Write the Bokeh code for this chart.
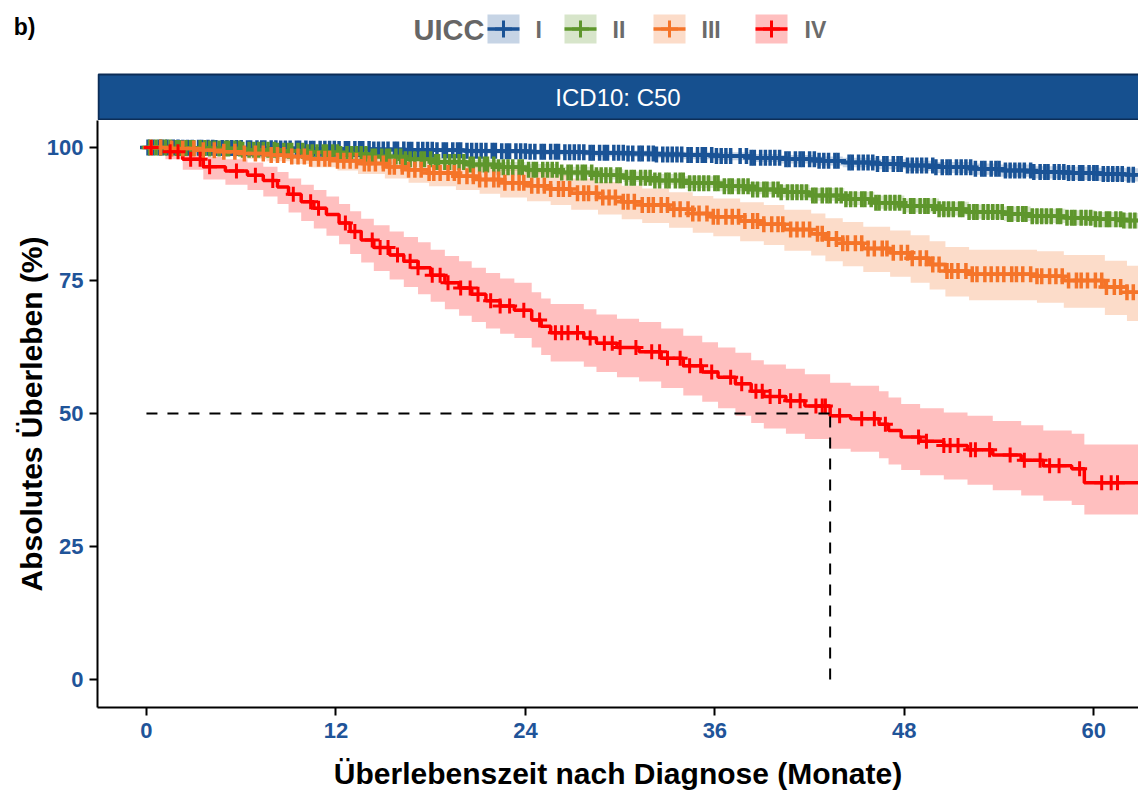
import numpy as np
from bokeh.plotting import figure
from bokeh.models import Range1d, FixedTicker, ColumnDataSource
from bokeh.layouts import column
from bokeh.embed import file_html
from bokeh.resources import INLINE
from bokeh.core.properties import value

# ---------------- data ----------------
groups = ["I", "II", "III", "IV"]
colors = ["#1A5396", "#5E962C", "#F57429", "#FF0000"]
legend_title = "UICC"
facet_label = "ICD10: C50"
panel_tag = "b)"
x_ticks = [0, 12, 24, 36, 48, 60]
y_ticks = [0, 25, 50, 75, 100]
end_time = 62.9

t_I = [0, 2.1, 4.3, 6.2, 8.4, 10.3, 12.1, 14.2, 16.4, 18.3, 20.1, 22.4, 24.2, 26.3, 28.1, 30.4,
       32.2, 34.0, 36.1, 38.3, 40.2, 42.4, 44.1, 46.3, 48.2, 50.0, 52.3, 54.1, 56.2, 58.4, 60.3, 62.0]
s_I = [100, 99.95, 99.9, 99.85, 99.8, 99.75, 99.7, 99.65, 99.6, 99.5, 99.4, 99.3, 99.2, 99.1, 99.0, 98.9,
       98.7, 98.6, 98.4, 98.1, 97.8, 97.5, 97.2, 96.9, 96.6, 96.3, 96.0, 95.7, 95.4, 95.2, 95.0, 94.9]
lo_I = [100, 99.9, 99.8, 99.7, 99.6, 99.5, 99.4, 99.3, 99.2, 99.1, 98.9, 98.8, 98.6, 98.5, 98.3, 98.2,
        98.0, 97.8, 97.6, 97.3, 97.0, 96.6, 96.3, 95.9, 95.6, 95.2, 94.9, 94.5, 94.2, 93.9, 93.7, 93.6]
hi_I = [100, 100, 100, 99.95, 99.95, 99.9, 99.9, 99.9, 99.85, 99.8, 99.75, 99.7, 99.65, 99.6, 99.5, 99.45,
        99.3, 99.2, 99.1, 98.8, 98.6, 98.3, 98.1, 97.8, 97.5, 97.3, 97.0, 96.8, 96.5, 96.4, 96.2, 96.1]

t_II = [0, 1.8, 3.9, 6.1, 8.2, 10.1, 12.3, 14.0, 16.2, 18.1, 20.3, 22.2, 24.0, 26.1, 28.3, 30.2,
        32.0, 34.1, 36.3, 38.2, 40.1, 42.0, 44.2, 46.1, 48.0, 50.2, 52.1, 54.3, 56.0, 58.2, 60.1, 61.9]
s_II = [100, 99.9, 99.8, 99.6, 99.4, 99.1, 98.8, 98.3, 97.8, 97.3, 96.8, 96.3, 95.8, 95.3, 94.8, 94.3,
        93.8, 93.3, 92.7, 92.1, 91.6, 91.0, 90.3, 89.6, 89.0, 88.4, 87.9, 87.5, 87.1, 86.8, 86.5, 86.3]
lo_II = [100, 99.8, 99.6, 99.3, 99.1, 98.7, 98.4, 97.8, 97.3, 96.7, 96.2, 95.6, 95.1, 94.6, 94.0, 93.5,
         93.0, 92.4, 91.8, 91.2, 90.6, 90.0, 89.2, 88.5, 87.8, 87.2, 86.6, 86.2, 85.8, 85.4, 85.0, 84.8]
hi_II = [100, 100, 99.95, 99.85, 99.7, 99.5, 99.3, 98.9, 98.5, 98.1, 97.7, 97.3, 96.9, 96.4, 95.9, 95.5,
         95.0, 94.6, 94.0, 93.5, 93.0, 92.4, 91.7, 91.0, 90.4, 89.8, 89.3, 88.9, 88.5, 88.2, 87.9, 87.7]

t_III = [0, 1.4, 3.1, 4.6, 5.9, 7.6, 9.1, 10.4, 12.1, 13.4, 15.1, 16.6, 17.9, 19.6, 21.1, 22.4, 24.1,
         25.6, 26.9, 28.6, 30.1, 31.4, 33.1, 34.6, 35.9, 37.6, 39.1, 40.4, 42.1, 43.0, 44.1, 45.4, 47.1,
         48.4, 49.6, 50.6, 52.1, 56.4, 58.1, 60.7, 62.1]
s_III = [100, 99.8, 99.5, 99.2, 98.9, 98.6, 98.3, 97.9, 97.5, 97.0, 96.4, 95.8, 95.2, 94.6, 94.0, 93.4, 92.8,
         92.2, 91.4, 90.6, 89.8, 89.2, 88.4, 87.6, 87.0, 86.2, 85.6, 84.6, 83.8, 82.8, 82.0, 81.0, 80.2,
         79.2, 78.0, 76.8, 76.2, 75.8, 75.0, 73.8, 72.8]
lo_III = [100, 99.5, 98.9, 98.4, 97.9, 97.4, 96.9, 96.3, 95.7, 95.0, 94.2, 93.4, 92.7, 92.0, 91.3, 90.6, 89.9,
          89.2, 88.3, 87.4, 86.5, 85.8, 84.9, 84.0, 83.3, 82.4, 81.7, 80.6, 79.7, 78.6, 77.7, 76.6, 75.7,
          74.6, 73.3, 72.0, 71.3, 70.8, 69.9, 68.5, 67.4]
hi_III = [100, 100, 99.9, 99.8, 99.7, 99.6, 99.5, 99.3, 99.1, 98.7, 98.3, 97.9, 97.4, 96.9, 96.4, 95.9, 95.4,
          94.9, 94.2, 93.5, 92.8, 92.3, 91.6, 90.9, 90.4, 89.7, 89.2, 88.3, 87.6, 86.7, 86.0, 85.1, 84.4,
          83.5, 82.4, 81.3, 80.8, 80.5, 79.8, 78.7, 77.8]

t_IV = [0, 1.2, 2.3, 3.6, 5.0, 6.4, 7.4, 8.3, 9.0, 9.8, 10.6, 11.4, 12.2, 12.9, 13.6, 14.4, 15.4, 16.3,
        17.2, 18.0, 18.9, 19.8, 20.6, 21.5, 22.4, 23.3, 24.4, 25.0, 25.6, 27.7, 28.5, 29.8, 31.2, 32.6,
        34.0, 35.2, 36.2, 37.3, 38.3, 39.1, 40.5, 41.7, 43.3, 44.6, 46.4, 47.0, 47.8, 49.0, 50.5, 52.0,
        53.6, 55.4, 56.8, 58.6, 59.4]
s_IV = [100, 99.2, 97.8, 96.4, 95.6, 94.8, 93.8, 92.6, 91.2, 89.8, 88.6, 87.4, 85.8, 84.2, 82.6, 81.2, 79.8,
        78.6, 77.4, 76.0, 74.6, 73.6, 72.4, 71.2, 70.2, 69.4, 67.6, 66.4, 65.2, 64.2, 63.2, 62.4, 61.6, 60.4,
        59.0, 57.8, 56.8, 55.6, 54.2, 53.2, 52.4, 51.4, 49.6, 49.0, 48.0, 46.8, 45.6, 44.8, 44.0, 43.2, 42.2,
        41.2, 40.2, 39.6, 37.0]
lo_IV = [100, 97.8, 95.8, 94.0, 93.0, 92.0, 90.8, 89.4, 87.8, 86.2, 84.8, 83.4, 81.8, 80.0, 78.4, 76.8, 75.2,
         73.8, 72.4, 71.0, 69.6, 68.4, 67.2, 66.0, 65.0, 64.2, 62.4, 61.0, 59.8, 58.8, 57.8, 56.8, 56.0, 54.8,
         53.4, 52.2, 51.0, 49.6, 48.2, 47.2, 46.2, 45.2, 43.4, 42.8, 41.6, 40.4, 39.4, 38.4, 37.6, 36.6, 35.6,
         34.6, 33.6, 32.8, 31.0]
hi_IV = [100, 99.9, 99.2, 98.2, 97.8, 97.2, 96.4, 95.4, 94.2, 93.0, 92.0, 90.8, 89.4, 88.0, 86.6, 85.4, 84.2,
         83.2, 82.2, 80.8, 79.6, 78.6, 77.4, 76.4, 75.4, 74.6, 72.8, 71.6, 70.6, 69.6, 68.6, 67.8, 67.2, 66.0,
         64.6, 63.4, 62.4, 61.4, 60.0, 59.2, 58.4, 57.4, 55.8, 55.2, 54.2, 53.0, 51.8, 51.0, 50.2, 49.6, 48.6,
         47.8, 46.8, 46.2, 44.2]

cens_I = [0.1, 0.4, 0.8, 1.0, 1.3, 1.7, 2.0, 2.3, 2.6, 2.9, 3.3, 3.5, 3.9, 4.2, 4.4, 4.8, 5.1, 5.4, 5.7, 6.0,
          6.4, 6.6, 7.0, 7.3, 7.5, 7.9, 8.2, 8.5, 8.8, 9.1, 9.5, 9.7, 10.1, 10.4, 10.6, 11.0, 11.3, 11.6, 11.9, 12.2,
          12.6, 12.8, 13.2, 13.5, 13.7, 14.1, 14.4, 14.7, 15.0, 15.3, 15.7, 15.9, 16.3, 16.6, 16.8, 17.2, 17.5, 17.8,
          18.1, 18.4, 18.8, 19.0, 19.4, 19.7, 19.9, 20.3, 20.6, 20.9, 21.2, 21.5, 21.9, 22.1, 22.5, 22.8, 23.0, 23.4,
          23.7, 24.0, 24.3, 24.6, 25.0, 25.2, 25.6, 25.9, 26.1, 26.5, 26.8, 27.1, 27.4, 27.7, 28.1, 28.3, 28.7, 29.0,
          29.2, 29.6, 29.9, 30.2, 30.5, 30.8, 31.2, 31.4, 31.8, 32.1, 32.3, 32.7, 33.0, 33.3, 33.6, 33.9, 34.3, 34.5,
          34.9, 35.2, 35.4, 35.8, 36.1, 36.4, 36.7, 37.0, 37.6, 38.0, 38.3, 38.5, 38.9, 39.2, 39.5, 39.8, 40.1, 40.5,
          40.7, 41.1, 41.4, 41.6, 42.0, 42.3, 42.6, 42.9, 43.2, 43.6, 43.8, 44.5, 44.7, 45.1, 45.4, 45.7, 46.0, 46.3,
          46.7, 46.9, 47.3, 47.6, 47.8, 48.2, 48.5, 48.8, 49.1, 49.4, 49.8, 50.0, 50.4, 50.7, 50.9, 51.3, 51.6, 51.9,
          52.2, 52.5, 52.9, 53.1, 53.5, 53.8, 54.0, 54.4, 54.7, 55.0, 55.3, 55.6, 56.0, 56.2, 56.6, 56.9, 57.1, 57.5,
          57.8, 58.1, 58.4, 58.7, 59.1, 59.3, 59.7, 60.0, 60.2, 60.6, 60.9, 61.2, 61.5, 61.8, 62.2, 62.5]
cens_II = [0.2, 0.6, 0.9, 1.2, 1.5, 1.9, 2.1, 2.5, 2.8, 3.0, 3.4, 3.7, 4.0, 4.3, 4.6, 5.0, 5.2, 5.6, 5.9, 6.1,
           6.5, 6.8, 7.1, 7.4, 7.7, 8.1, 8.3, 8.7, 9.0, 9.2, 9.6, 9.9, 10.2, 10.5, 10.8, 11.2, 11.4, 11.8, 12.1, 12.3,
           12.7, 13.0, 13.3, 13.6, 13.9, 14.3, 14.5, 14.9, 15.2, 15.4, 15.8, 16.1, 16.4, 16.7, 17.0, 17.4, 17.6, 18.0,
           18.3, 18.5, 18.9, 19.2, 19.5, 19.8, 20.1, 20.5, 20.7, 21.1, 21.4, 21.6, 22.0, 22.3, 22.6, 22.9, 23.2, 23.6,
           23.8, 24.2, 24.5, 24.7, 25.1, 25.4, 25.7, 26.0, 26.3, 26.7, 26.9, 27.3, 27.6, 27.8, 28.2, 28.5, 28.8, 29.1,
           29.4, 29.8, 30.0, 30.4, 30.7, 30.9, 31.3, 31.6, 31.9, 32.2, 32.5, 32.9, 33.1, 33.5, 33.8, 34.0, 34.4, 34.7,
           35.0, 35.3, 35.6, 36.0, 36.2, 36.6, 36.9, 37.1, 37.5, 37.8, 38.1, 38.4, 38.7, 39.1, 39.3, 39.7, 40.0, 40.2,
           40.6, 40.9, 41.2, 41.5, 41.8, 42.2, 42.4, 42.8, 43.1, 43.3, 43.7, 44.0, 44.3, 44.6, 44.9, 45.3, 45.5, 45.9,
           46.2, 46.4, 46.8, 47.1, 47.4, 47.7, 48.0, 48.4, 48.6, 49.0, 49.3, 49.5, 49.9, 50.2, 50.5, 50.8, 51.1, 51.5,
           51.7, 52.1, 52.4, 52.6, 53.0, 53.3, 53.6, 53.9, 54.2, 54.6, 54.8, 55.2, 55.5, 55.7, 56.1, 56.4, 56.7, 57.0,
           57.3, 57.7, 57.9, 58.3, 58.6, 58.8, 59.2, 59.5, 59.8, 60.1, 60.4, 60.8, 61.0, 61.4, 61.7, 61.9, 62.3, 62.6]
cens_III = [0.3, 0.9, 1.6, 2.3, 3.0, 3.6, 4.3, 4.9, 5.6, 6.2, 6.9, 7.4, 7.9, 8.3, 8.7, 9.2, 9.6, 10.0, 10.4, 10.9,
            11.3, 11.6, 12.1, 12.5, 12.9, 13.3, 13.8, 14.1, 14.5, 15.0, 15.4, 15.7, 16.2, 16.6, 17.0, 17.4, 17.9,
            18.2, 18.6, 19.1, 19.5, 19.8, 20.3, 20.7, 21.1, 21.5, 22.0, 22.3, 22.7, 23.2, 23.6, 23.9, 24.4, 24.8,
            25.2, 25.6, 26.1, 26.4, 26.8, 27.3, 27.7, 28.0, 28.5, 28.9, 29.3, 29.7, 30.2, 30.5, 30.9, 31.4, 31.8,
            32.1, 32.6, 33.0, 33.4, 33.8, 34.3, 34.6, 35.0, 35.5, 35.9, 36.2, 36.7, 37.1, 37.5, 37.9, 38.4, 38.7,
            39.1, 39.6, 40.0, 40.3, 40.8, 41.2, 41.6, 42.0, 42.5, 42.8, 43.2, 43.7, 44.1, 44.4, 44.9, 45.3, 45.7,
            46.1, 46.6, 46.9, 47.3, 47.8, 48.2, 48.5, 49.0, 49.4, 49.8, 50.2, 50.7, 51.0, 51.4, 51.9, 52.3, 52.6,
            53.1, 53.5, 53.9, 54.3, 54.8, 55.1, 55.5, 56.0, 56.4, 56.7, 57.2, 57.6, 58.0, 58.4, 58.9, 59.2, 59.6,
            60.1, 60.5, 60.8, 61.3, 61.7, 62.1, 62.5]
cens_IV = [0.3, 1.5, 2.0, 2.8, 3.4, 4.0, 5.7, 6.9, 8.0, 9.3, 10.4, 10.9, 12.6, 13.2, 14.3, 14.8, 15.3, 15.9,
           16.7, 17.2, 18.1, 18.6, 19.1, 19.9, 20.5, 21.0, 21.8, 22.4, 23.0, 23.9, 24.9, 25.9, 26.3, 26.7,
           27.3, 28.1, 29.0, 29.5, 30.0, 31.0, 32.0, 32.5, 33.0, 33.8, 34.4, 35.1, 35.8, 37.0, 37.7, 38.6,
           39.0, 39.5, 40.1, 40.8, 41.4, 42.4, 42.8, 43.0, 43.9, 45.3, 46.1, 46.8, 48.9, 49.4, 50.5, 50.9,
           51.4, 52.2, 52.5, 53.4, 54.7, 55.6, 56.6, 57.2, 57.8, 59.1, 60.5, 61.1, 61.5]

times = [t_I, t_II, t_III, t_IV]
survs = [s_I, s_II, s_III, s_IV]
lowers = [lo_I, lo_II, lo_III, lo_IV]
uppers = [hi_I, hi_II, hi_III, hi_IV]
censors = [cens_I, cens_II, cens_III, cens_IV]

FONT = "Liberation Sans"
TICK_COLOR = "#1F5499"
W = 1138
LEFT = 97

# ---------------- main panel ----------------
p = figure(width=W, height=678, x_range=Range1d(-3.1, 62.83), y_range=Range1d(-5.26, 105.08),
           output_backend="svg", toolbar_location=None,
           min_border_left=LEFT, min_border_right=0, min_border_top=0, min_border_bottom=91)
p.outline_line_color = None
p.xgrid.visible = False
p.ygrid.visible = False

def step_xy(t, v):
    return list(t) + [end_time], list(v) + [v[-1]]

for t, lo, hi, c in zip(times, lowers, uppers, colors):
    xs, y1 = step_xy(t, lo)
    _, y2 = step_xy(t, hi)
    p.varea_step(x=xs, y1=y1, y2=y2, step_mode="after", fill_color=c, fill_alpha=0.25)

for t, s, c in zip(times, survs, colors):
    xs, ys = step_xy(t, s)
    p.step(xs, ys, mode="after", line_color=c, line_width=3.5)

for i, (t, s, cens, c) in enumerate(zip(times, survs, censors, colors)):
    idx = np.searchsorted(np.array(t), np.array(cens), side="right") - 1
    cy = np.array(s)[idx]
    dense = i < 3
    p.scatter(cens, cy, marker="cross", size=(16 if dense else 15),
              line_width=(3.5 if dense else 3), line_color=c)

s_arr = np.array(s_IV)
median_t = float(np.array(t_IV)[np.argmax(s_arr <= 50)])
p.line([0, median_t], [50, 50], line_color="black", line_width=2, line_dash="11 10")
p.line([median_t, median_t], [0, 50], line_color="black", line_width=2, line_dash="11 10")

p.xaxis.ticker = FixedTicker(ticks=x_ticks)
p.yaxis.ticker = FixedTicker(ticks=y_ticks)
for ax in (p.xaxis[0], p.yaxis[0]):
    ax.axis_line_width = 2
    ax.axis_line_color = "black"
    ax.major_tick_line_width = 2
    ax.major_tick_line_color = "black"
    ax.major_tick_in = 0
    ax.major_tick_out = 8
    ax.minor_tick_in = 0
    ax.minor_tick_out = 0
    ax.major_label_text_font = FONT
    ax.major_label_text_font_size = "22px"
    ax.major_label_text_font_style = "bold"
    ax.major_label_text_color = TICK_COLOR
    ax.axis_label_text_font = FONT
    ax.axis_label_text_font_size = "30px"
    ax.axis_label_text_font_style = "bold"
    ax.axis_label_text_color = "black"
p.xaxis.axis_label = "Überlebenszeit nach Diagnose (Monate)"
p.yaxis.axis_label = "Absolutes Überleben (%)"
p.xaxis.major_label_standoff = 7
p.xaxis.axis_label_standoff = 16
p.yaxis.major_label_standoff = 6
p.yaxis.axis_label_standoff = -4

# ---------------- header: panel tag, legend, facet strip (page-pixel coords) ----------------
top = figure(width=W, height=120, x_range=Range1d(LEFT, W), y_range=Range1d(120, 0),
             x_axis_type=None, output_backend="svg", toolbar_location=None,
             min_border_left=LEFT, min_border_right=0, min_border_top=0, min_border_bottom=0)
top.outline_line_color = None
top.xgrid.visible = False
top.ygrid.visible = False

# panel tag "b)" as the single label of an otherwise invisible left axis
tag_y = 26
top.yaxis.ticker = FixedTicker(ticks=[tag_y])
top.yaxis.major_label_overrides = {tag_y: panel_tag}
top.yaxis.axis_line_color = None
top.yaxis.major_tick_line_color = None
top.yaxis.minor_tick_line_color = None
top.yaxis.major_tick_out = 0
top.yaxis.major_tick_in = 0
top.yaxis.minor_tick_out = 0
top.yaxis.minor_tick_in = 0
top.yaxis.major_label_standoff = LEFT - 35
top.yaxis.major_label_text_font = FONT
top.yaxis.major_label_text_font_size = "23px"
top.yaxis.major_label_text_font_style = "bold"
top.yaxis.major_label_text_color = "black"

top.text(x=[484], y=[29], text=[legend_title], text_font=value(FONT), text_font_size="29px",
         text_font_style="bold", text_baseline="middle", text_align="right", text_color="#666666")

key_x = [503, 580, 669, 771]
lab_x = [535, 612, 701, 804]
ksrc = ColumnDataSource(dict(x=key_x, l=[k - 16 for k in key_x], r=[k + 16 for k in key_x],
                             lx=lab_x, c=colors, g=groups))
top.quad(left="l", right="r", top=14, bottom=43, fill_color="c", fill_alpha=0.25, line_color=None, source=ksrc)
top.segment(x0="l", x1="r", y0=28.5, y1=28.5, line_color="c", line_width=3.5, source=ksrc)
top.scatter(x="x", y=28.5, marker="cross", size=17, line_width=3, line_color="c", source=ksrc)
top.text(x="lx", y=29, text="g", text_font=value(FONT), text_font_size="23px", text_font_style="bold",
         text_baseline="middle", text_color="#6B6B6B", source=ksrc)

top.quad(left=[LEFT + 1], right=[W + 10], top=[74], bottom=[119], fill_color="#16508F",
         line_color="#0C2D57", line_width=2)
top.text(x=[(LEFT + W) / 2], y=[97], text=[facet_label], text_font=value(FONT), text_font_size="24px",
         text_baseline="middle", text_align="center", text_color="white")

layout = column(top, p, spacing=0)
open("out.html", "w").write(file_html(layout, INLINE))
